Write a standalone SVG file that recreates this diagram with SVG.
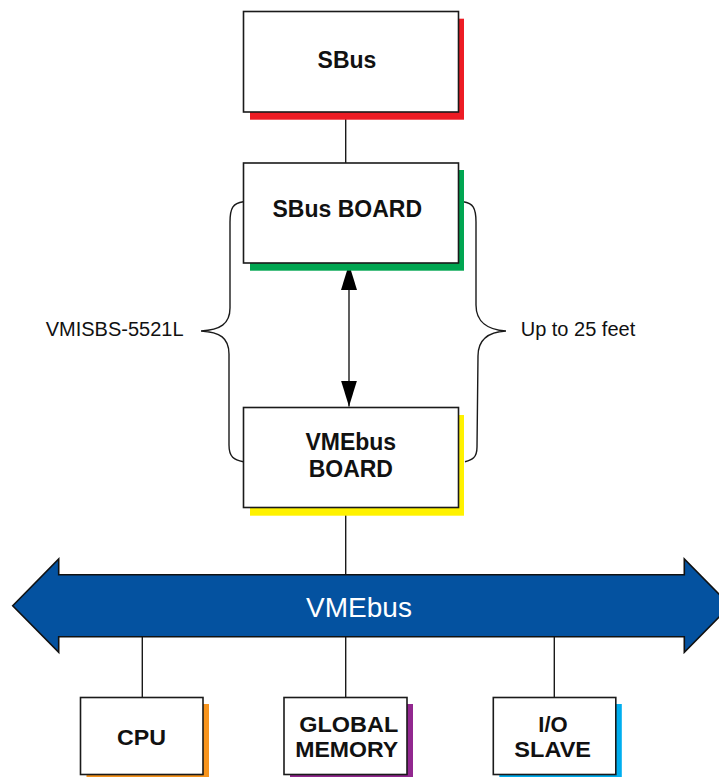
<svg xmlns="http://www.w3.org/2000/svg" width="719" height="777" viewBox="0 0 719 777">
<style>
.box{fill:#fff;stroke:#1a1a1a;stroke-width:1.6}
.lbl{font-family:"Liberation Sans",Arial,sans-serif;font-weight:bold;font-size:23px;fill:#111;text-anchor:middle}
.sm{font-size:22px}
.side{font-family:"Liberation Sans",Arial,sans-serif;font-size:20px;fill:#111}
.ln{stroke:#1a1a1a;stroke-width:1.4;fill:none}
</style>
<defs>
<marker id="ah" viewBox="0 0 26 16" refX="26" refY="8" markerWidth="26" markerHeight="16" markerUnits="userSpaceOnUse" orient="auto-start-reverse">
<path d="M0,0 L26,8 L0,16 Z" fill="#000"/>
</marker>
</defs>
<rect width="719" height="777" fill="#fff"/>
<g id="connectors">
<line class="ln" x1="345.7" y1="112" x2="345.7" y2="163"/>
<line class="ln" x1="349" y1="264" x2="349" y2="406.5" stroke-width="1.8" marker-start="url(#ah)" marker-end="url(#ah)"/>
<line class="ln" x1="345.7" y1="507.5" x2="345.7" y2="575"/>
<line class="ln" x1="142.3" y1="636.7" x2="142.3" y2="697.5"/>
<line class="ln" x1="345.7" y1="636.7" x2="345.7" y2="697.5"/>
<line class="ln" x1="554.3" y1="636.7" x2="554.3" y2="697.5"/>
<path class="ln" d="M243.3,201.7 C233,203 230,208 230,222 L230,308 C230,324 220,330 201,331 C220,332 229,338 229,354 L229,445 C229,457 234,460 243.3,461.7"/>
<path class="ln" d="M463.3,201.7 C473,203 476,208 476,222 L476,305 C476,322 488,330 506,331 C488,332 478,340 478,356 L477,447 C477,458 472,460 465,461.7"/>
</g>
<g id="sbus">
<rect x="250" y="18.7" width="214" height="101" fill="#ED1C24"/>
<rect class="box" x="243.5" y="11.5" width="215" height="100.5"/>
<text class="lbl" x="347" y="68.3">SBus</text>
</g>
<g id="sbus-board">
<rect x="250" y="170" width="214" height="100.7" fill="#00A651"/>
<rect class="box" x="243.5" y="163" width="215" height="100"/>
<text class="lbl" x="347.3" y="217.3">SBus BOARD</text>
</g>
<g id="vmebus-board">
<rect x="250" y="415" width="214" height="100.7" fill="#FFF200"/>
<rect class="box" x="243.5" y="407.5" width="215" height="100"/>
<text class="lbl" x="350.8" y="450">VMEbus</text>
<text class="lbl" x="350.8" y="476.7">BOARD</text>
</g>
<g id="label-left">
<text class="side" x="45.7" y="335.7">VMISBS-5521L</text>
</g>
<g id="label-right">
<text class="side" x="520.7" y="335.7">Up to 25 feet</text>
</g>
<g id="vmebus">
<polygon points="12.7,605.7 58.7,559 58.7,574.7 684.3,574.7 684.3,559 730.3,605.7 684.3,652.3 684.3,636.7 58.7,636.7 58.7,652.3" fill="#0452A0" stroke="#111" stroke-width="1.6" stroke-linejoin="miter"/>
<text x="359" y="617" font-family="'Liberation Sans',Arial,sans-serif" font-size="28" fill="#fff" text-anchor="middle">VMEbus</text>
</g>
<g id="cpu">
<rect x="86.5" y="704" width="122.5" height="77" fill="#F7941D"/>
<rect class="box" x="80.5" y="697.5" width="122.5" height="77"/>
<text class="lbl sm" x="141.5" y="744.5" textLength="49" lengthAdjust="spacingAndGlyphs">CPU</text>
</g>
<g id="global-memory">
<rect x="290" y="704" width="123" height="77" fill="#92278F"/>
<rect class="box" x="284" y="697.5" width="123" height="77"/>
<text class="lbl sm" x="348.8" y="732.2" textLength="99" lengthAdjust="spacingAndGlyphs">GLOBAL</text>
<text class="lbl sm" x="346.7" y="757.4" textLength="103" lengthAdjust="spacingAndGlyphs">MEMORY</text>
</g>
<g id="io-slave">
<rect x="499.3" y="704" width="122.5" height="77" fill="#00AEEF"/>
<rect class="box" x="493.3" y="697.5" width="122.5" height="77"/>
<text class="lbl sm" x="553" y="732.2" textLength="29.4" lengthAdjust="spacingAndGlyphs">I/O</text>
<text class="lbl sm" x="552.7" y="757.4" textLength="76.7" lengthAdjust="spacingAndGlyphs">SLAVE</text>
</g>
</svg>
